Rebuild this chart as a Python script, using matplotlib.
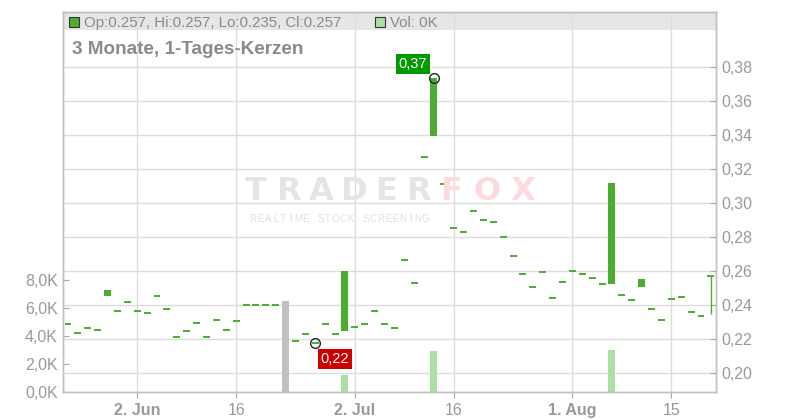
import matplotlib.pyplot as plt
import numpy as np
import pandas as pd

plt.rcParams['font.family'] = ['Liberation Sans', 'DejaVu Sans']

# Handelstage 22.05.2025 - 21.08.2025
dates = pd.bdate_range('2025-05-22', '2025-08-21')
nan = np.nan

opens = [0.229, 0.2235, 0.2265, 0.2253, 0.2456, 0.2365, 0.2418, 0.2365, 0.2353, 0.2453,
         0.2376, 0.2212, 0.2247, 0.2294, 0.2212, 0.2312, 0.2253, 0.2306, 0.240, 0.240,
         0.240, 0.240, nan, 0.219, 0.2231, 0.2176, 0.229, 0.2231, 0.2251, 0.2271,
         0.229, 0.2365, 0.229, 0.2265, 0.2667, 0.2529, 0.327, 0.3398, 0.3112, 0.2853,
         0.283, 0.2953, 0.290, 0.2888, 0.280, 0.2688, 0.2582, 0.2506, 0.2594, 0.2441,
         0.2535, 0.260, 0.2582, 0.2559, 0.2524, 0.2527, 0.2459, 0.2429, 0.251, 0.2376,
         0.2312, 0.2435, 0.2447, 0.2359, 0.2335, 0.257]
closes = [0.229, 0.2235, 0.2265, 0.2253, 0.2491, 0.2365, 0.2418, 0.2365, 0.2353, 0.2453,
          0.2376, 0.2212, 0.2247, 0.2294, 0.2212, 0.2312, 0.2253, 0.2306, 0.240, 0.240,
          0.240, 0.240, nan, 0.219, 0.2231, 0.2176, 0.229, 0.2231, 0.2602, 0.2271,
          0.229, 0.2365, 0.229, 0.2265, 0.2667, 0.2529, 0.327, 0.3737, 0.3112, 0.2853,
          0.283, 0.2953, 0.290, 0.2888, 0.280, 0.2688, 0.2582, 0.2506, 0.2594, 0.2441,
          0.2535, 0.260, 0.2582, 0.2559, 0.2524, 0.3118, 0.2459, 0.2429, 0.2555, 0.2376,
          0.2312, 0.2435, 0.2447, 0.2359, 0.2335, 0.257]
highs = [0.229, 0.2235, 0.2265, 0.2253, 0.2491, 0.2365, 0.2418, 0.2365, 0.2353, 0.2453,
         0.2376, 0.2212, 0.2247, 0.2294, 0.2212, 0.2312, 0.2253, 0.2306, 0.240, 0.240,
         0.240, 0.240, nan, 0.219, 0.2231, 0.2176, 0.229, 0.2231, 0.2602, 0.2271,
         0.229, 0.2365, 0.229, 0.2265, 0.2667, 0.2529, 0.327, 0.3737, 0.3112, 0.2853,
         0.283, 0.2953, 0.290, 0.2888, 0.280, 0.2688, 0.2582, 0.2506, 0.2594, 0.2441,
         0.2535, 0.260, 0.2582, 0.2559, 0.2524, 0.3118, 0.2459, 0.2429, 0.2555, 0.2376,
         0.2312, 0.2435, 0.2447, 0.2359, 0.2335, 0.257]
lows = [0.229, 0.2235, 0.2265, 0.2253, 0.2456, 0.2365, 0.2418, 0.2365, 0.2353, 0.2453,
        0.2376, 0.2212, 0.2247, 0.2294, 0.2212, 0.2312, 0.2253, 0.2306, 0.240, 0.240,
        0.240, 0.240, nan, 0.219, 0.2231, 0.2176, 0.229, 0.2231, 0.2251, 0.2271,
        0.229, 0.2365, 0.229, 0.2265, 0.2667, 0.2529, 0.327, 0.3398, 0.3112, 0.2853,
        0.283, 0.2953, 0.290, 0.2888, 0.280, 0.2688, 0.2582, 0.2506, 0.2594, 0.2441,
        0.2535, 0.260, 0.2582, 0.2559, 0.2524, 0.2527, 0.2459, 0.2429, 0.251, 0.2376,
        0.2312, 0.2435, 0.2447, 0.2359, 0.2335, 0.235]
# Volumen in Tausend
volumes = [0, 0, 0, 0, 0, 0, 0, 0, 0, 0,
           0, 0, 0, 0, 0, 0, 0, 0, 0, 0,
           0, 0, 6.5, 0, 0, 0, 0, 0, 1.2, 0,
           0, 0, 0, 0, 0, 0, 0, 2.95, 0, 0,
           0, 0, 0, 0, 0, 0, 0, 0, 0, 0,
           0, 0, 0, 0, 0, 3.0, 0, 0, 0, 0,
           0, 0, 0, 0, 0, 0]

tick_dates = ['2025-06-02', '2025-06-16', '2025-07-02', '2025-07-16', '2025-08-01', '2025-08-15']
tick_labels = ['2. Jun', '16', '2. Jul', '16', '1. Aug', '15']
price_ticks = [0.20, 0.22, 0.24, 0.26, 0.28, 0.30, 0.32, 0.34, 0.36, 0.38]
vol_ticks = [0, 2, 4, 6, 8]

green = '#4aad32'
light_green = '#abdfa4'
grid_c = '#dddddd'
txt_c = '#999999'

x = np.arange(len(dates))
p_lo, p_hi = 0.18882, 0.41253
v_hi = 27.16

fig = plt.figure(figsize=(8, 4.2), dpi=100)
axv = fig.add_axes([0.0791, 0.0660, 0.8159, 0.9055])
axp = axv.twinx()

# Kopfzeile (grauer Balken)
axv.fill_between([0, 1], 0.9527, 1, transform=axv.transAxes, color='#e6e6e6', zorder=0.1, lw=0)

# Gitter
for p in price_ticks:
    f = (p - p_lo) / (p_hi - p_lo)
    axv.plot([0, 1], [f, f], transform=axv.transAxes, color=grid_c, lw=1, zorder=0.3)
xt = [dates.get_loc(pd.Timestamp(d)) for d in tick_dates]
for t in xt:
    axv.axvline(t, color=grid_c, lw=1, zorder=0.3)

# Volumen
vcols = [light_green if closes[i] > opens[i] else '#c0c0c0' for i in range(len(x))]
axv.bar(x, volumes, width=0.7, color=vcols, zorder=1)
axv.set_ylim(0, v_hi)
axv.set_xlim(-0.48, 65.52)

# Kerzen
for i in range(len(x)):
    o, c, h, l = opens[i], closes[i], highs[i], lows[i]
    if np.isnan(o):
        continue
    if h > max(o, c) or l < min(o, c):
        axp.vlines(i, l, h, color=green, lw=1, zorder=3)
    if c > o:
        axp.bar(i, c - o, bottom=o, width=0.7, color=green, zorder=3)
    else:
        axp.hlines(o, i - 0.35, i + 0.35, color=green, lw=1.4, zorder=3)
axp.set_ylim(p_lo, p_hi)

# Hoch / Tief Markierungen
i_hi = int(np.nanargmax(highs))
i_lo = int(np.nanargmin(lows[:-1]))
axp.plot([i_hi, i_lo], [highs[i_hi], lows[i_lo]], 'o', ms=7, mfc='none', mec='#222222', mew=1, zorder=5)
axp.annotate(f'{highs[i_hi]:.2f}'.replace('.', ','), (i_hi, highs[i_hi]), xytext=(-5, 5),
             textcoords='offset points', ha='right', va='bottom', color='white', fontsize=10.5,
             bbox=dict(boxstyle='square,pad=0.2', fc='#009a00', ec='none'), zorder=6)
axp.annotate(f'{lows[i_lo]:.2f}'.replace('.', ','), (i_lo, lows[i_lo]), xytext=(4, -6),
             textcoords='offset points', ha='left', va='top', color='white', fontsize=10.5,
             bbox=dict(boxstyle='square,pad=0.2', fc='#cc0000', ec='none'), zorder=6)

# Achsen
axp.set_yticks(price_ticks)
axp.set_yticklabels([f'{p:.2f}'.replace('.', ',') for p in price_ticks])
axv.set_yticks(vol_ticks)
axv.set_yticklabels([f'{v:.1f}K'.replace('.', ',') for v in vol_ticks])
axv.set_xticks(xt)
axv.set_xticklabels(tick_labels)
for lab in axv.get_xticklabels():
    if not lab.get_text().isdigit():
        lab.set_fontweight('bold')
        lab.set_color('#8c8c8c')
axv.tick_params(axis='y', direction='in', length=4, color='#aaaaaa', labelsize=11.5, labelcolor=txt_c, pad=4)
axp.tick_params(axis='y', direction='in', length=4, color='#aaaaaa', labelsize=11.5, labelcolor=txt_c, pad=4)
axv.tick_params(axis='x', direction='out', length=4, color='#aaaaaa', labelsize=11.5, labelcolor=txt_c, pad=4)
for ax in (axv, axp):
    for s in ax.spines.values():
        s.set_color('#c0c0c0')
        s.set_linewidth(1)

# Legende / Titel
fig.patches.append(plt.Rectangle((68.5 / 800, 1 - 26.5 / 420), 10 / 800, 9.5 / 420, transform=fig.transFigure,
                                 fc=green, ec='#333333', lw=0.8))
fig.text(84 / 800, 1 - 27 / 420, 'Op:0.257, Hi:0.257, Lo:0.235, Cl:0.257', color='#8a8a8a', fontsize=10.8)
fig.patches.append(plt.Rectangle((375 / 800, 1 - 26.5 / 420), 10 / 800, 9.5 / 420, transform=fig.transFigure,
                                 fc=light_green, ec='#333333', lw=0.8))
fig.text(390 / 800, 1 - 27 / 420, 'Vol: 0K', color='#8a8a8a', fontsize=10.8)
fig.text(72 / 800, 1 - 54.5 / 420, '3 Monate, 1-Tages-Kerzen', color='#8a8a8a', fontsize=13.6, fontweight='bold')

# Wasserzeichen
for k, ch in enumerate('TRADER'):
    fig.text((256 + k * 32.5) / 800, 1 - 200 / 420, ch, color='#e5e5e5', fontsize=23, fontweight='bold',
             family='DejaVu Sans', ha='center', zorder=0.5)
for k, ch in enumerate('FOX'):
    fig.text((451 + k * 36) / 800, 1 - 200 / 420, ch, color='#fcdadd', fontsize=23, fontweight='bold',
             family='DejaVu Sans', ha='center', zorder=0.5)
sub = 'REALTIME STOCK SCREENING'
for k, ch in enumerate(sub):
    fig.text((253 + k * 7.5) / 800, 1 - 222 / 420, ch, color='#e0e0e0', fontsize=7, ha='center', zorder=0.5)

fig.savefig('out.png', dpi=100)
